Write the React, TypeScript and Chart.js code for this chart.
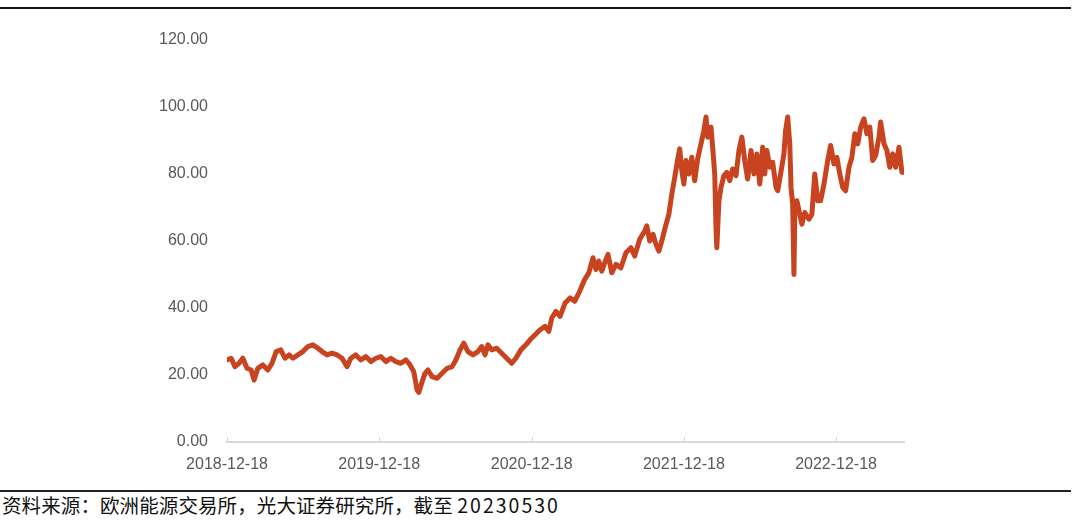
import { useEffect, useRef } from "react";
import { Chart, registerables } from "chart.js";

Chart.register(...registerables);

const startDate = "2018-12-18";
const endDate = "2023-05-30";

const dates = [
  "2018-12-18", "2018-12-28", "2019-01-06", "2019-01-16", "2019-01-25", "2019-02-04", "2019-02-14", "2019-02-21",
  "2019-03-02", "2019-03-14", "2019-03-26", "2019-04-05", "2019-04-15", "2019-04-26", "2019-05-06", "2019-05-16",
  "2019-05-25", "2019-06-06", "2019-06-18", "2019-06-30", "2019-07-12", "2019-07-24", "2019-08-03", "2019-08-15",
  "2019-08-27", "2019-09-08", "2019-09-20", "2019-10-02", "2019-10-11", "2019-10-23", "2019-11-04", "2019-11-16",
  "2019-11-28", "2019-12-10", "2019-12-22", "2020-01-03", "2020-01-15", "2020-01-27", "2020-02-08", "2020-02-20",
  "2020-03-01", "2020-03-10", "2020-03-18", "2020-03-22", "2020-03-30", "2020-04-06", "2020-04-13", "2020-04-23",
  "2020-05-05", "2020-05-17", "2020-05-29", "2020-06-10", "2020-06-19", "2020-06-29", "2020-07-08", "2020-07-18",
  "2020-07-30", "2020-08-11", "2020-08-20", "2020-08-28", "2020-09-04", "2020-09-13", "2020-09-25", "2020-10-07",
  "2020-10-19", "2020-10-31", "2020-11-10", "2020-11-22", "2020-12-04", "2020-12-14", "2020-12-26", "2021-01-07",
  "2021-01-19", "2021-01-28", "2021-02-04", "2021-02-14", "2021-02-24", "2021-03-08", "2021-03-20", "2021-03-31",
  "2021-04-12", "2021-04-24", "2021-05-04", "2021-05-14", "2021-05-21", "2021-05-28", "2021-06-04", "2021-06-11",
  "2021-06-19", "2021-06-28", "2021-07-08", "2021-07-20", "2021-08-01", "2021-08-13", "2021-08-22", "2021-09-03",
  "2021-09-15", "2021-09-20", "2021-09-27", "2021-10-05", "2021-10-12", "2021-10-19", "2021-10-26", "2021-11-02",
  "2021-11-12", "2021-11-19", "2021-11-26", "2021-12-04", "2021-12-08", "2021-12-13", "2021-12-18", "2021-12-23",
  "2021-12-30", "2022-01-06", "2022-01-13", "2022-01-20", "2022-01-28", "2022-02-04", "2022-02-09", "2022-02-13",
  "2022-02-21", "2022-02-25", "2022-03-02", "2022-03-05", "2022-03-07", "2022-03-12", "2022-03-17", "2022-03-24",
  "2022-03-31", "2022-04-07", "2022-04-14", "2022-04-22", "2022-04-29", "2022-05-06", "2022-05-13", "2022-05-20",
  "2022-05-28", "2022-06-04", "2022-06-11", "2022-06-18", "2022-06-25", "2022-06-30", "2022-07-05", "2022-07-12",
  "2022-07-19", "2022-07-27", "2022-07-31", "2022-08-07", "2022-08-15", "2022-08-19", "2022-08-24", "2022-08-29",
  "2022-09-01", "2022-09-05", "2022-09-08", "2022-09-10", "2022-09-15", "2022-09-22", "2022-09-27", "2022-10-04",
  "2022-10-14", "2022-10-21", "2022-10-28", "2022-11-04", "2022-11-11", "2022-11-19", "2022-11-28", "2022-12-05",
  "2022-12-13", "2022-12-20", "2022-12-27", "2023-01-03", "2023-01-10", "2023-01-18", "2023-01-25", "2023-02-01",
  "2023-02-08", "2023-02-15", "2023-02-23", "2023-03-02", "2023-03-09", "2023-03-16", "2023-03-23", "2023-03-31",
  "2023-04-04", "2023-04-12", "2023-04-19", "2023-04-26", "2023-05-03", "2023-05-10", "2023-05-18", "2023-05-25",
  "2023-05-30",
];

const prices = [
  24.5, 25.0, 22.5, 23.5, 25.0, 22.0, 21.5, 18.5,
  22.0, 23.0, 21.5, 23.5, 27.0, 27.5, 25.0, 26.0,
  25.0, 26.0, 27.0, 28.5, 29.0, 28.0, 27.0, 26.0,
  26.5, 26.0, 25.0, 22.5, 25.0, 26.0, 24.5, 25.5,
  24.0, 25.0, 25.5, 24.0, 25.0, 24.0, 23.5, 24.5,
  23.0, 21.0, 15.5, 14.8, 18.0, 20.5, 21.5, 19.5,
  19.0, 20.5, 22.0, 22.5, 24.5, 27.5, 29.5, 27.0,
  26.0, 27.0, 28.5, 26.0, 29.0, 27.5, 28.0, 26.5,
  25.0, 23.5, 25.0, 27.5, 29.0, 30.5, 32.0, 33.5,
  34.5, 33.0, 37.0, 39.0, 37.5, 41.5, 43.0, 42.0,
  45.0, 48.5, 50.5, 55.0, 51.5, 54.0, 51.0, 53.5,
  56.0, 50.5, 53.0, 52.0, 56.5, 58.0, 55.5, 60.5,
  63.0, 64.5, 60.0, 62.0, 59.0, 57.0, 60.0, 63.5,
  68.0, 74.0, 79.0, 85.0, 87.5, 81.0, 77.0, 84.0,
  80.0, 85.0, 78.0, 84.5, 89.0, 93.0, 97.0, 91.0,
  94.0, 88.0, 80.0, 64.0, 58.0, 72.0, 76.0, 79.5,
  80.5, 78.0, 81.5, 79.5, 87.0, 91.0, 84.0, 78.5,
  87.0, 80.0, 86.0, 77.0, 88.0, 80.0, 87.0, 82.0,
  83.5, 76.0, 75.0, 80.0, 86.0, 93.0, 97.0, 89.0,
  76.0, 71.0, 50.0, 68.0, 72.0, 68.0, 65.0, 68.5,
  66.5, 68.0, 80.0, 72.0, 72.0, 77.0, 84.0, 88.5,
  83.0, 85.0, 80.0, 76.0, 75.0, 82.0, 85.0, 92.0,
  89.0, 94.0, 96.5, 92.0, 94.0, 84.0, 85.5, 91.0,
  95.5, 89.0, 87.0, 82.0, 86.0, 82.0, 88.0, 80.5,
  80.5,
];

const xTickDates = ["2018-12-18", "2019-12-18", "2020-12-18", "2021-12-18", "2022-12-18"];
const yMin = 0;
const yMax = 120;
const yStep = 20;

const sourceLabel = "资料来源：欧洲能源交易所，光大证券研究所，截至 ";
const sourceDate = "20230530";

function dayOffset(s: string): number {
  const [y, m, d] = s.split("-").map(Number);
  const [y0, m0, d0] = startDate.split("-").map(Number);
  return Math.round((Date.UTC(y, m - 1, d) - Date.UTC(y0, m0 - 1, d0)) / 86400000);
}

const innerTicks = {
  id: "innerTicks",
  beforeDatasetsDraw(chart: any) {
    const x = chart.scales.x;
    const ctx = chart.ctx;
    ctx.save();
    ctx.strokeStyle = "#d9d9d9";
    ctx.lineWidth = 1;
    x.ticks.forEach((t: any) => {
      const px = Math.round(x.getPixelForValue(t.value)) + 0.5;
      ctx.beginPath();
      ctx.moveTo(px, x.top);
      ctx.lineTo(px, x.top - 5);
      ctx.stroke();
    });
    ctx.restore();
  },
};

export default function App() {
  const ref = useRef<HTMLCanvasElement | null>(null);

  useEffect(() => {
    if (!ref.current) return;
    const points = dates.map((d, i) => ({ x: dayOffset(d), y: prices[i] }));
    const tickDays = xTickDates.map(dayOffset);
    const chart = new Chart(ref.current, {
      type: "line",
      data: {
        datasets: [
          {
            data: points,
            borderColor: "#C8431F",
            borderWidth: 5,
            pointRadius: 0,
            tension: 0,
            borderJoinStyle: "round",
            borderCapStyle: "round",
            fill: false,
          },
        ],
      },
      options: {
        animation: false,
        responsive: false,
        maintainAspectRatio: false,
        parsing: false,
        normalized: true,
        layout: { padding: { top: 40, right: 176, bottom: 0, left: 0 } },
        plugins: { legend: { display: false }, tooltip: { enabled: false }, title: { display: false } },
        scales: {
          x: {
            type: "linear",
            min: 0,
            max: dayOffset(endDate),
            grid: { display: false, drawTicks: false },
            border: { display: true, color: "#d9d9d9", width: 2 },
            afterBuildTicks: (scale: any) => {
              scale.ticks = tickDays.map((v) => ({ value: v }));
            },
            afterFit: (scale: any) => {
              scale.height = 38;
            },
            ticks: {
              autoSkip: false,
              maxRotation: 0,
              minRotation: 0,
              padding: 13,
              color: "#595959",
              font: { family: "'Liberation Sans', Arial, sans-serif", size: 16 },
              callback: (v: any) => {
                const idx = tickDays.indexOf(Number(v));
                return idx >= 0 ? xTickDates[idx] : "";
              },
            },
          },
          y: {
            min: yMin,
            max: yMax,
            grid: { display: false, drawTicks: false },
            border: { display: false },
            afterFit: (scale: any) => {
              scale.width = 227;
            },
            ticks: {
              stepSize: yStep,
              padding: 19,
              color: "#595959",
              font: { family: "'Liberation Sans', Arial, sans-serif", size: 16 },
              callback: (v: any) => Number(v).toFixed(2),
            },
          },
        },
      },
      plugins: [innerTicks],
    } as any);
    return () => chart.destroy();
  }, []);

  return (
    <div
      style={{
        position: "absolute",
        left: 0,
        top: 0,
        width: 1080,
        height: 529,
        background: "#ffffff",
        overflow: "hidden",
      }}
    >
      <canvas ref={ref} width={1080} height={480} style={{ position: "absolute", left: 0, top: 0, width: 1080, height: 480 }} />
      <div style={{ position: "absolute", left: 0, top: 7, width: 1071, height: 2, background: "#111111" }} />
      <div style={{ position: "absolute", left: 0, top: 490, width: 1071, height: 2, background: "#222222" }} />
      <div
        style={{
          position: "absolute",
          left: 2,
          top: 493,
          fontFamily: "'Noto Sans CJK SC', sans-serif",
          fontSize: 19.5,
          lineHeight: "24px",
          letterSpacing: "0.1px",
          color: "#111111",
          whiteSpace: "nowrap",
        }}
      >
        {sourceLabel}
        <span style={{ letterSpacing: "2px" }}>{sourceDate}</span>
      </div>
    </div>
  );
}
